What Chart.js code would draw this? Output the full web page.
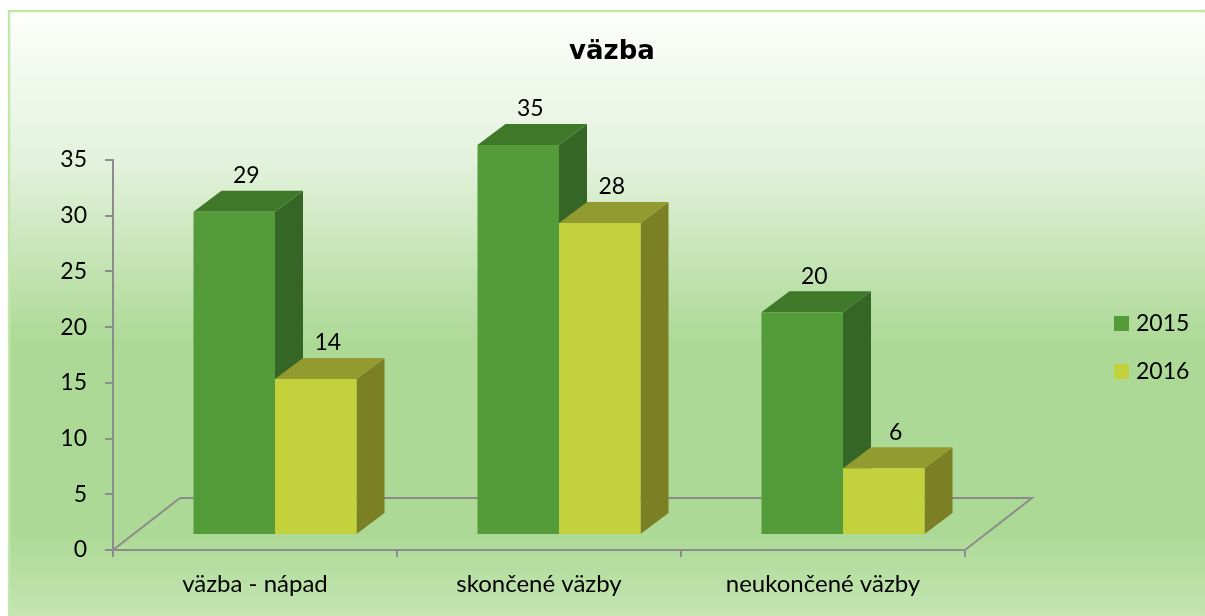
<!DOCTYPE html>
<html>
<head>
<meta charset="utf-8">
<script src="https://cdn.jsdelivr.net/npm/chart.js@4/dist/chart.umd.min.js"></script>
<style>
  html, body { margin: 0; padding: 0; background: #fff; }
  #wrap { width: 1205px; height: 616px; }
</style>
</head>
<body>
<div id="wrap"><canvas id="chart" width="1205" height="616"></canvas></div>
<script>
// data
const categories = ["väzba - nápad", "skončené väzby", "neukončené väzby"];
const seriesNames = ["2015", "2016"];
const values2015 = [29, 35, 20];
const values2016 = [14, 28, 6];
const yTicks = [0, 5, 10, 15, 20, 25, 30, 35];
const titleText = "väzba";

// colours: front, top, side
const shades = [
  { front: "#549c3a", top: "#40782a", side: "#356626" },
  { front: "#c2d13c", top: "#919b2f", side: "#7b8025" },
];

const AXIS = "#8c8c8c";
const FONT = "Lato, 'Open Sans', sans-serif";

// 3D look
const FRONT_DX = 20, FRONT_DY = -15;   // bar front face offset from axis plane
const DEPTH_DX = 28, DEPTH_DY = -21;   // bar depth
const FLOOR_DX = 67, FLOOR_DY = -52;   // floor depth

function poly(ctx, pts, fill) {
  ctx.beginPath();
  ctx.moveTo(pts[0][0], pts[0][1]);
  for (let i = 1; i < pts.length; i++) ctx.lineTo(pts[i][0], pts[i][1]);
  ctx.closePath();
  ctx.fillStyle = fill;
  ctx.fill();
}

const backgroundPlugin = {
  id: "bg",
  beforeDraw(chart) {
    const ctx = chart.ctx;
    const w = chart.width, h = chart.height;
    ctx.save();
    ctx.fillStyle = "#ffffff";
    ctx.fillRect(0, 0, w, h);
    const g = ctx.createLinearGradient(0, 10, 0, h);
    g.addColorStop(0, "#fdfefc");
    g.addColorStop(0.25, "#e3f2dc");
    g.addColorStop(0.5, "#b5dda1");
    g.addColorStop(0.56, "#acd995");
    g.addColorStop(0.86, "#acd995");
    g.addColorStop(1, "#c4e5b2");
    ctx.fillStyle = g;
    ctx.fillRect(10, 12, w - 10, h - 12);
    ctx.strokeStyle = "#c4e6ab";
    ctx.lineWidth = 2.5;
    ctx.beginPath();
    ctx.moveTo(9, h);
    ctx.lineTo(9, 11);
    ctx.lineTo(w, 11);
    ctx.stroke();
    // title, centred on the whole chart
    ctx.fillStyle = "#000";
    ctx.font = "bold 26px 'DejaVu Sans', sans-serif";
    ctx.textAlign = "center";
    ctx.textBaseline = "middle";
    ctx.fillText(titleText, 612, 52);
    ctx.restore();
  },
};

const bars3dPlugin = {
  id: "bars3d",
  beforeDatasetsDraw(chart) {
    // floor outline
    const ctx = chart.ctx;
    const a = chart.chartArea;
    ctx.save();
    ctx.strokeStyle = AXIS;
    ctx.lineWidth = 2;
    ctx.beginPath();
    ctx.moveTo(a.left, a.bottom);
    ctx.lineTo(a.left + FLOOR_DX, a.bottom + FLOOR_DY);
    ctx.lineTo(a.right + FLOOR_DX, a.bottom + FLOOR_DY);
    ctx.lineTo(a.right, a.bottom);
    ctx.stroke();
    ctx.restore();

    // draw the boxes ourselves, category by category
    const metas = chart.data.datasets.map((d, i) => chart.getDatasetMeta(i));
    ctx.save();
    for (let c = 0; c < categories.length; c++) {
      metas.forEach((meta, di) => {
        const el = meta.data[c];
        const x0 = el.x - el.width / 2 + FRONT_DX;
        const x1 = el.x + el.width / 2 + FRONT_DX;
        const yT = el.y + FRONT_DY;
        const yB = el.base + FRONT_DY;
        const s = shades[di];
        poly(ctx, [[x1, yT], [x1 + DEPTH_DX, yT + DEPTH_DY], [x1 + DEPTH_DX, yB + DEPTH_DY], [x1, yB]], s.side);
        poly(ctx, [[x0, yT], [x1, yT], [x1 + DEPTH_DX, yT + DEPTH_DY], [x0 + DEPTH_DX, yT + DEPTH_DY]], s.top);
        poly(ctx, [[x0, yT], [x1, yT], [x1, yB], [x0, yB]], s.front);
      });
    }
    // value labels
    ctx.fillStyle = "#000";
    ctx.font = "23px " + FONT;
    ctx.textAlign = "center";
    ctx.textBaseline = "middle";
    metas.forEach((meta, di) => {
      meta.data.forEach((el, i) => {
        const v = chart.data.datasets[di].data[i];
        ctx.fillText(String(v), el.x + FRONT_DX + 12, el.y + FRONT_DY + DEPTH_DY - 15);
      });
    });
    // legend
    ctx.textAlign = "left";
    seriesNames.forEach((name, i) => {
      const y = 316 + i * 48;
      ctx.fillStyle = shades[i].front;
      ctx.fillRect(1114, y, 15, 15);
      ctx.fillStyle = "#000";
      ctx.fillText(name, 1136, y + 8);
    });
    ctx.restore();
    return false;
  },
};

const ctx = document.getElementById("chart").getContext("2d");
const chart = new Chart(ctx, {
  type: "bar",
  data: {
    labels: categories,
    datasets: [
      { label: seriesNames[0], data: values2015, backgroundColor: shades[0].front },
      { label: seriesNames[1], data: values2016, backgroundColor: shades[1].front },
    ],
  },
  options: {
    responsive: false,
    animation: false,
    categoryPercentage: 0.574,
    barPercentage: 1,
    layout: { padding: { left: 0, right: 240, top: 160, bottom: 0 } },
    plugins: {
      legend: { display: false },
      tooltip: { enabled: false },
      title: { display: false },
    },
    scales: {
      x: {
        afterFit: (s) => { s.height = 66; },
        grid: { drawOnChartArea: false, drawTicks: true, tickLength: 7, color: AXIS, lineWidth: 2 },
        border: { display: true, color: AXIS, width: 2 },
        ticks: { color: "#000", font: { family: FONT, size: 24 }, padding: 13, maxRotation: 0 },
      },
      y: {
        min: 0,
        max: 35,
        afterFit: (s) => { s.width = 113; },
        afterBuildTicks: (s) => { s.ticks = yTicks.map((v) => ({ value: v })); },
        grid: { drawOnChartArea: false, drawTicks: true, tickLength: 8, color: AXIS, lineWidth: 2 },
        border: { display: true, color: AXIS, width: 2 },
        ticks: { color: "#000", font: { family: FONT, size: 23 }, padding: 18 },
      },
    },
  },
  plugins: [backgroundPlugin, bars3dPlugin],
});
</script>
</body>
</html>
